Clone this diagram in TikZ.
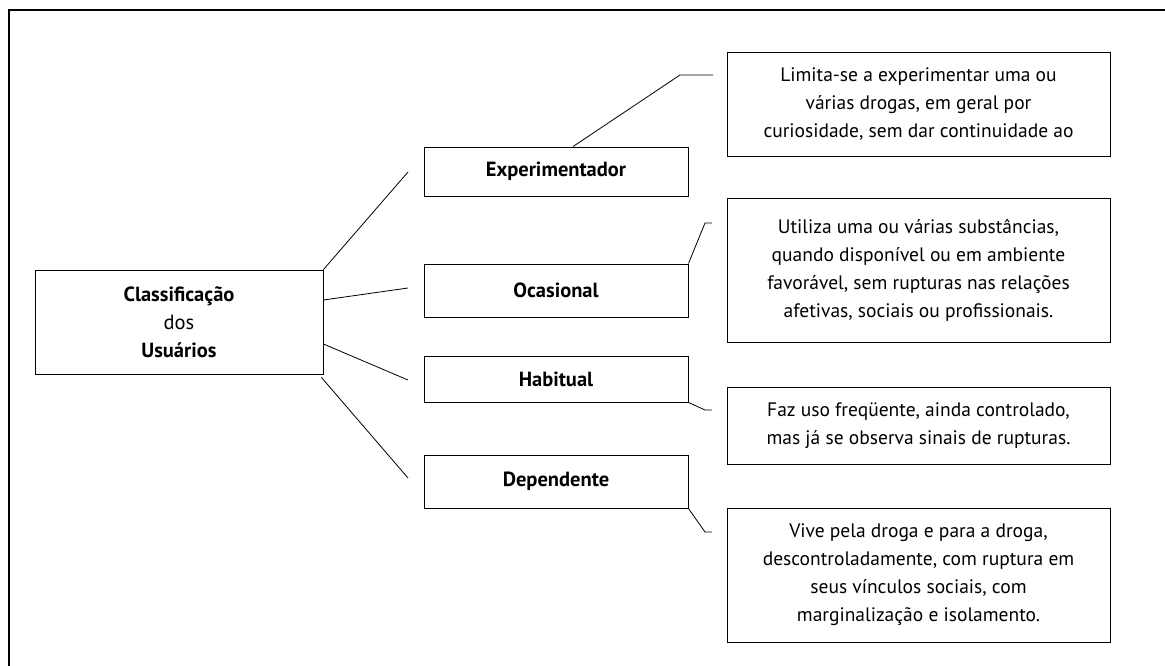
\documentclass[tikz,border=0pt]{standalone}
\usepackage{fontspec}
\setmainfont{PT Sans}
\begin{document}
\begin{tikzpicture}[x=1pt,y=-1pt, line width=0.8pt,
  box/.style={draw, line width=0.9pt, inner sep=0pt, align=center},
  lbl/.style={box, minimum width=264pt, font=\fontsize{20.5}{24}\selectfont\bfseries},
  desc/.style={box, minimum width=383pt, font=\fontsize{19.5}{28}\selectfont},
  link/.style={draw, line width=0.8pt}]
\useasboundingbox (0,0) rectangle (1165,666);
\draw[line width=1.3pt] (9,666) -- (9,10) -- (1165,10);

\node[box, minimum width=288pt, minimum height=104pt, font=\fontsize{20.5}{28}\selectfont] (main) at (179,322)
  {\textbf{Classificação}\\dos\\\textbf{Usuários}};

\node[lbl, minimum height=49pt] (exp) at (556,171.5) {Experimentador};
\node[lbl, minimum height=53pt] (oca) at (556,290.5) {Ocasional};
\node[lbl, minimum height=46pt] (hab) at (556,379) {Habitual};
\node[lbl, minimum height=53pt] (dep) at (556,481.5) {Dependente};

\node[desc, minimum height=104pt] (lim) at (918.5,104)
  {Limita-se a experimentar uma ou\\várias drogas, em geral por\\curiosidade, sem dar continuidade ao};
\node[desc, minimum height=144pt] (uti) at (918.5,270)
  {Utiliza uma ou várias substâncias,\\quando disponível ou em ambiente\\favorável, sem rupturas nas relações\\afetivas, sociais ou profissionais.};
\node[desc, minimum height=77pt] (faz) at (918.5,425.5)
  {Faz uso freqüente, ainda controlado,\\mas já se observa sinais de rupturas.};
\node[desc, minimum height=134pt] (viv) at (918.5,575)
  {Vive pela droga e para a droga,\\descontroladamente, com ruptura em\\seus vínculos sociais, com\\marginalização e isolamento.};

% connectors from the main box
\coordinate (e1) at (408,172);
\coordinate (e2) at (408,288);
\coordinate (e3) at (408,380);
\coordinate (e4) at (408,478);
\draw[link] (main.north east) -- (e1);
\draw[link] ([yshift=22pt]main.east) -- (e2);
\draw[link] ([yshift=-22pt]main.east) -- (e3);
\draw[link] ([xshift=-2pt,yshift=-3pt]main.south east) -- (e4);

% connectors towards the descriptions
\coordinate (b1) at (680,75);  \coordinate (t1) at (713,75);
\coordinate (b2) at (705,223); \coordinate (t2) at (712,223);
\coordinate (b3) at (705,410); \coordinate (t3) at (712,410);
\coordinate (b4) at (705,532); \coordinate (t4) at (712,532);
\draw[link] ([xshift=17pt]exp.north) -- (b1) -- (t1);
\draw[link] (oca.north east) -- (b2) -- (t2);
\draw[link] (hab.south east) -- (b3) -- (t3);
\draw[link] (dep.south east) -- (b4) -- (t4);
\end{tikzpicture}
\end{document}
